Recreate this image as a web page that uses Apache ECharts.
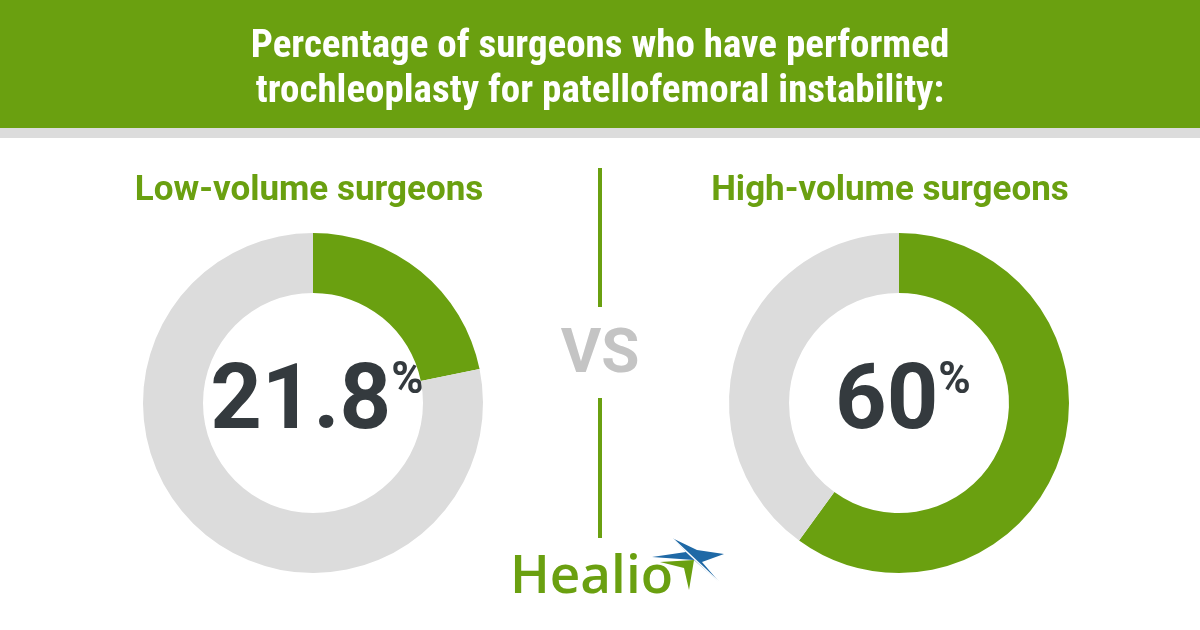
<!DOCTYPE html>
<html><head><meta charset="utf-8">
<script src="https://cdn.jsdelivr.net/npm/echarts@6/dist/echarts.min.js"></script>
<style>html,body{margin:0;padding:0;background:#fff}#c{width:1200px;height:630px}</style>
</head><body><div id="c"></div>
<script>
const titleLines = ["Percentage of surgeons who have performed", "trochleoplasty for patellofemoral instability:"];
const groups = ["Low-volume surgeons", "High-volume surgeons"];
const performed = [21.8, 60];
const valueLabels = ["21.8", "60"];
const GREEN = "#6aa010", GRAY = "#dcdcdc", DARK = "#343a3e", BLUE = "#1f69a6";

const chart = echarts.init(document.getElementById('c'));
const centers = [313, 899];
const series = performed.map((v, i) => ({
  type: 'pie', silent: true,
  center: [centers[i], 403], radius: [110, 170],
  startAngle: 90, clockwise: true,
  label: {show: false}, labelLine: {show: false},
  emphasis: {disabled: true},
  data: [
    {name: 'Performed', value: v, itemStyle: {color: GREEN}},
    {name: 'Not performed', value: 100 - v, itemStyle: {color: GRAY}}
  ]
}));
const condensed = '"Liberation Sans Narrow", "Roboto Condensed", Roboto, sans-serif';
chart.setOption({
  animation: false,
  series: series,
  graphic: [
    {type: 'rect', shape: {x: 0, y: 0, width: 1200, height: 128}, style: {fill: GREEN}},
    {type: 'rect', shape: {x: 0, y: 128, width: 1200, height: 10}, style: {fill: GRAY}},
    {type: 'text', x: 600, y: 47, style: {text: titleLines[0], fill: '#fff', font: 'bold 39px ' + condensed, align: 'center', verticalAlign: 'middle'}},
    {type: 'text', x: 600, y: 92, style: {text: titleLines[1], fill: '#fff', font: 'bold 39px ' + condensed, align: 'center', verticalAlign: 'middle'}},
    {type: 'text', x: 309, y: 191, style: {text: groups[0], fill: GREEN, font: 'bold 35px Roboto, sans-serif', align: 'center', verticalAlign: 'middle'}},
    {type: 'text', x: 890, y: 191, style: {text: groups[1], fill: GREEN, font: 'bold 35px Roboto, sans-serif', align: 'center', verticalAlign: 'middle'}},
    {type: 'rect', shape: {x: 598, y: 168, width: 4, height: 139}, style: {fill: GREEN}},
    {type: 'rect', shape: {x: 598, y: 398, width: 4, height: 140}, style: {fill: GREEN}},
    {type: 'text', x: 600, y: 356, style: {text: 'VS', fill: '#c4c4c4', font: 'bold 62px Roboto, sans-serif', align: 'center', verticalAlign: 'middle'}},
    ...valueLabels.map((t, i) => ({
      type: 'text', x: centers[i] + 4, y: 405,
      style: {
        text: '{n|' + t + '}{p|%}', align: 'center', verticalAlign: 'middle',
        rich: {
          n: {font: 'bold 90px Roboto, sans-serif', fill: DARK, verticalAlign: 'bottom'},
          p: {font: 'bold 44px Roboto, sans-serif', fill: DARK, verticalAlign: 'top', padding: [0, 0, 36, 0]}
        }
      }
    })),
    {type: 'text', x: 510, y: 578, style: {text: 'Healio', fill: GREEN, font: '600 53px "Open Sans", Lato, sans-serif', verticalAlign: 'middle'}},
    {type: 'polygon', shape: {points: [[652,557],[686,552],[672,538],[697,550],[724,554],[702,562],[720,583],[694,560]]}, style: {fill: BLUE}},
    {type: 'polygon', shape: {points: [[660,562],[694,560],[689,590],[684,568]]}, style: {fill: GREEN}},
    {type: 'line', shape: {x1: 672, y1: 538, x2: 720, y2: 583}, style: {stroke: '#fff', lineWidth: 1.5}}
  ]
});
</script></body></html>
